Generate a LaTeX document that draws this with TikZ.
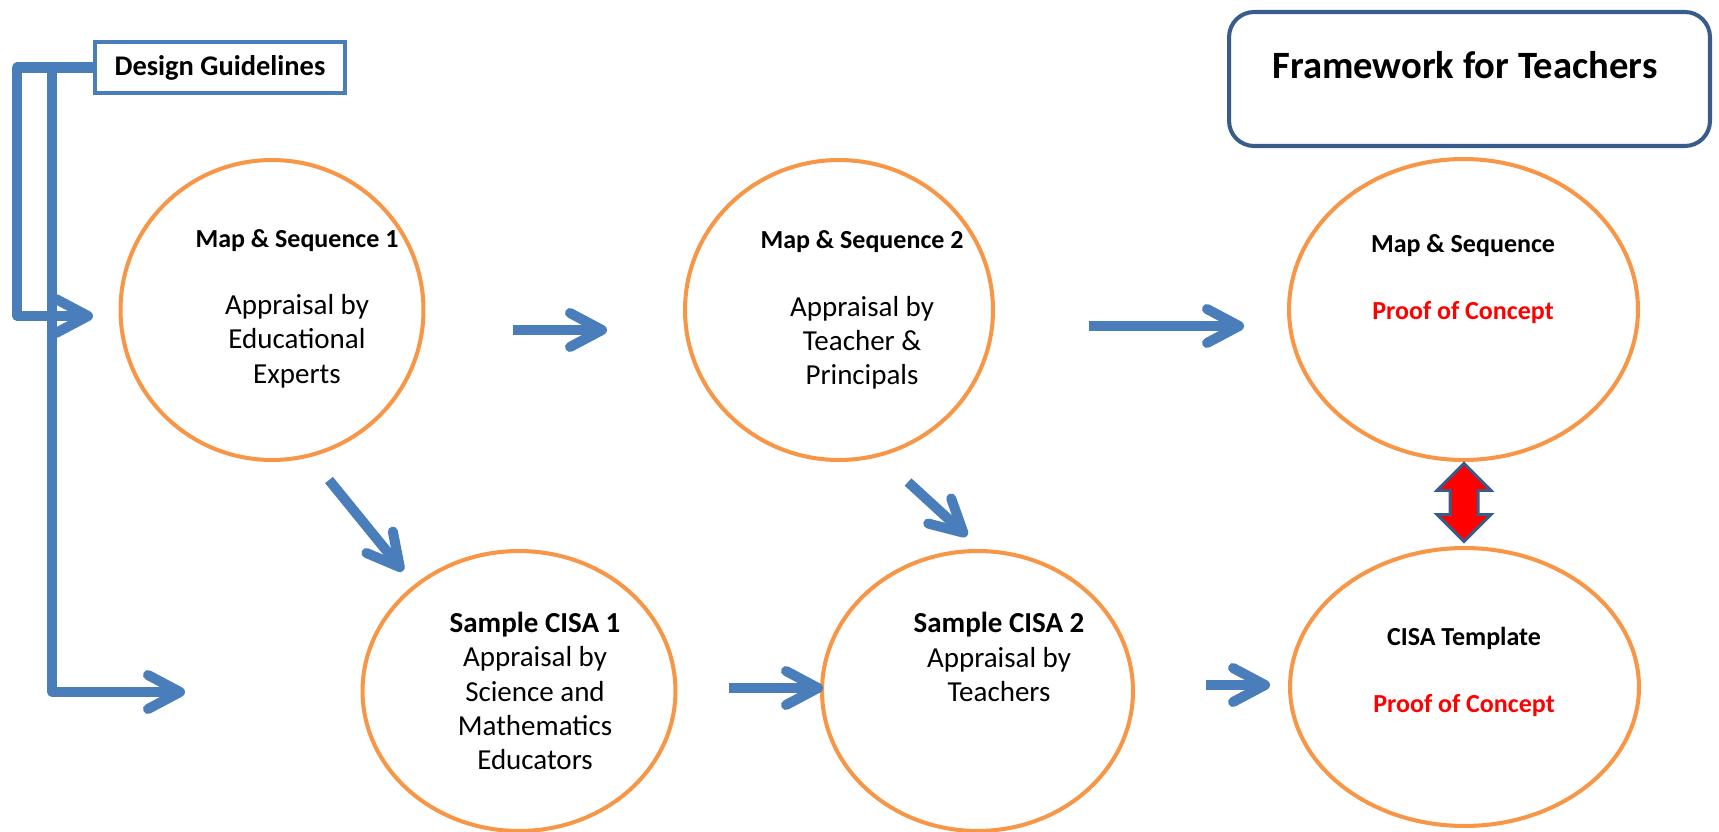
\documentclass[tikz,border=0pt]{standalone}
\usepackage{fontspec}
\setmainfont{Carlito}
\usetikzlibrary{arrows.meta,shapes.geometric,shapes.arrows}
\definecolor{fblue}{HTML}{4A7EBB}
\definecolor{forange}{HTML}{F79646}
\definecolor{fnavy}{HTML}{385D8A}
\definecolor{fred}{HTML}{FF0000}
\tikzset{
  stage/.style    = {draw=forange, line width=2.3pt, ellipse, inner sep=0pt},
  guide/.style    = {draw=fblue, line width=2pt, rectangle, minimum width=5.0cm,
                     minimum height=1.03cm, font=\fontsize{16.2}{19}\selectfont\bfseries},
  titlebox/.style = {draw=fnavy, line width=2.3pt, rectangle, rounded corners=0.5cm,
                     minimum width=9.62cm, minimum height=2.68cm},
  txt/.style      = {align=center, inner sep=0pt, font=\fontsize{16.5}{19.5}\selectfont},
  head/.style     = {align=center, inner sep=0pt, font=\fontsize{14.8}{19.2}\selectfont\bfseries},
  flow/.style     = {-{Straight Barb[round,length=0.64cm,width=0.68cm]}, fblue,
                     line width=5.7pt, line join=round},
  linkarrow/.style= {double arrow, rotate=90, draw=fnavy, fill=fred, line width=1.7pt,
                     inner xsep=0pt, inner ysep=0.25cm, minimum height=1.56cm,
                     double arrow head extend=0.26cm},
}

\begin{document}
\begin{tikzpicture}[x=0.02cm,y=-0.02cm]
\useasboundingbox (0,0) rectangle (1719,831);
\node[titlebox] (fw) at (1469.5,79) {};
\node[font=\fontsize{22}{26}\selectfont\bfseries] (fwt) at (1465,65) {Framework for Teachers};
\node[guide] (dg) at (220,67.5) {Design Guidelines};
% stages
\node[stage, minimum width=6.06cm, minimum height=6.0cm] (ms1) at (272,310) {};
\node[stage, minimum width=6.16cm, minimum height=6.0cm] (ms2) at (839,310) {};
\node[stage, minimum width=6.98cm, minimum height=6.02cm] (ms3) at (1463.5,309.5) {};
\node[stage, minimum width=6.26cm, minimum height=5.6cm] (cs1) at (519,691) {};
\node[stage, minimum width=6.22cm, minimum height=5.6cm] (cs2) at (977.5,691) {};
\node[stage, minimum width=6.98cm, minimum height=5.56cm] (tpl) at (1464.5,687) {};
\node[txt] (ms1t) at (297,308.5) {{\fontsize{14.8}{19.5}\selectfont\bfseries Map \& Sequence 1}\\[19pt]Appraisal by\\Educational\\Experts};
\node[txt] (ms2t) at (862,310) {{\fontsize{14.8}{19.5}\selectfont\bfseries Map \& Sequence 2}\\[19pt]Appraisal by\\Teacher \&\\Principals};
\node[head] (ms3t) at (1463,279) {Map \& Sequence\\[19pt]\textcolor{fred}{Proof of Concept}};
\node[txt] (cs1t) at (535,691) {\textbf{Sample CISA 1}\\Appraisal by\\Science and\\Mathematics\\Educators};
\node[txt] (cs2t) at (999,657) {\textbf{Sample CISA 2}\\Appraisal by\\Teachers};
\node[head] (tplt) at (1464,672) {CISA Template\\[19pt]\textcolor{fred}{Proof of Concept}};
% guideline bracket
\coordinate (inA) at (93,316);
\coordinate (inB) at (185,692);
\draw[flow] (dg.west) -- ++(-76,0) |- (inA);
\draw[flow] (dg.west) ++(-41,0) |- (inB);
% arrows between stages
\coordinate (a1s) at (513,330); \coordinate (a1e) at (607,330);
\coordinate (a2s) at (1089,326); \coordinate (a2e) at (1244,326);
\coordinate (a3s) at (329,480); \coordinate (a3e) at (403,571);
\coordinate (a4s) at (908,482); \coordinate (a4e) at (967,536);
\coordinate (a5s) at (729,688); \coordinate (a5e) at (823,688);
\coordinate (a6s) at (1206,685); \coordinate (a6e) at (1270,685);
\draw[flow] (a1s) -- (a1e);
\draw[flow] (a2s) -- (a2e);
\draw[flow] (a3s) -- (a3e);
\draw[flow] (a4s) -- (a4e);
\draw[flow] (a5s) -- (a5e);
\draw[flow] (a6s) -- (a6e);
\node[linkarrow] (link) at (1464,502.5) {};
\end{tikzpicture}
\end{document}
